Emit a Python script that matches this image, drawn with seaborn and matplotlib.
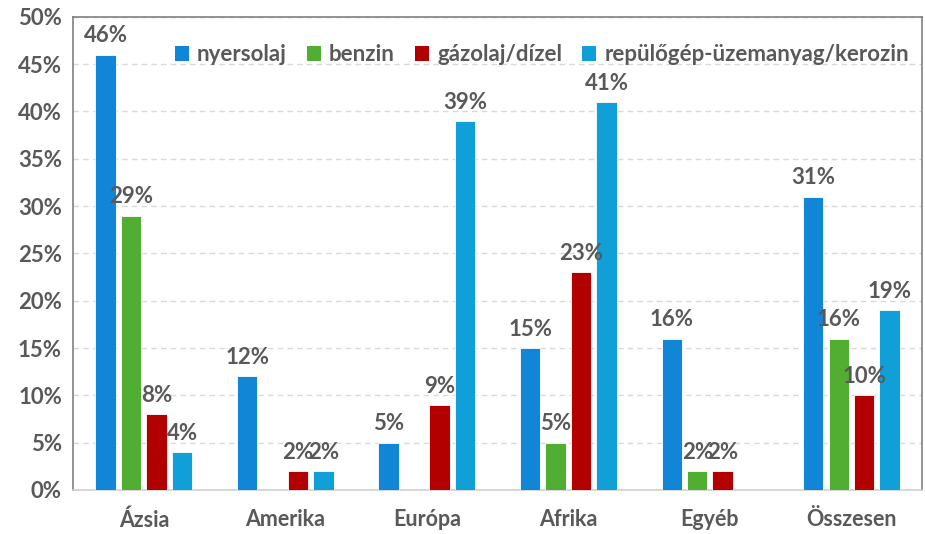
import matplotlib
matplotlib.use("Agg")
import matplotlib.pyplot as plt
import matplotlib.ticker as mticker
from matplotlib.patches import Patch
import seaborn as sns
import pandas as pd

regions = ["Ázsia", "Amerika", "Európa", "Afrika", "Egyéb", "Összesen"]
fuels = ["nyersolaj", "benzin", "gázolaj/dízel", "repülőgép-üzemanyag/kerozin"]
nyersolaj = [46, 12, 5, 15, 16, 31]
benzin = [29, 0, 0, 5, 2, 16]
gazolaj = [8, 2, 9, 23, 2, 10]
kerozin = [4, 2, 39, 41, 0, 19]
colors = ["#1185d6", "#52ae32", "#b20000", "#119fd8"]

rows = []
for fuel, vals in zip(fuels, [nyersolaj, benzin, gazolaj, kerozin]):
    for reg, v in zip(regions, vals):
        if v > 0:
            rows.append({"régió": reg, "üzemanyag": fuel, "arány": v / 100})
df = pd.DataFrame(rows)

sns.set_style("white")
plt.rcParams["font.family"] = ["Lato", "DejaVu Sans"]
text_color = "#595959"

fig = plt.figure(figsize=(9.25, 5.34), dpi=100)
ax = fig.add_axes([0.079, 0.0824, 0.918, 0.886])

sns.barplot(data=df, x="régió", y="arány", hue="üzemanyag",
            order=regions, hue_order=fuels, palette=colors, saturation=1,
            width=0.72, gap=0.2, errorbar=None, ax=ax,
            edgecolor="white", linewidth=0.6, zorder=3)

for container in ax.containers:
    labels = [f"{b.get_height() * 100:.0f}%" for b in container]
    ax.bar_label(container, labels=labels, padding=6, fontsize=16,
                 fontweight="bold", color=text_color)

ax.set_ylim(0, 0.5)
ax.set_xlim(-0.5, 5.5)
ax.yaxis.set_major_locator(mticker.MultipleLocator(0.05))
ax.yaxis.set_major_formatter(mticker.PercentFormatter(1.0, decimals=0))
ax.grid(axis="y", color="#d9d9d9", linestyle=(0, (4, 3)), linewidth=1, zorder=0)
ax.set_axisbelow(True)
ax.set_xlabel("")
ax.set_ylabel("")
ax.tick_params(axis="both", length=0, colors=text_color)
ax.tick_params(axis="y", labelsize=16, pad=8)
ax.tick_params(axis="x", labelsize=15.5, pad=14)
for lab in ax.get_xticklabels() + ax.get_yticklabels():
    lab.set_fontweight("bold")

for side in ["left", "top", "right"]:
    ax.spines[side].set_color("#808080")
    ax.spines[side].set_linewidth(1.2)
ax.spines["bottom"].set_color("#d0d0d0")
ax.spines["bottom"].set_linewidth(1.2)

handles = [Patch(facecolor=c, edgecolor="none") for c in colors]
leg = ax.legend(handles, fuels, loc="upper right", bbox_to_anchor=(1.0, 0.97),
                ncol=4, frameon=False, fontsize=16, handlelength=0.65,
                handleheight=0.7, handletextpad=0.35, columnspacing=0.9,
                borderaxespad=0.2)
for t in leg.get_texts():
    t.set_color(text_color)
    t.set_fontweight("bold")

fig.savefig("out.png", dpi=100)
